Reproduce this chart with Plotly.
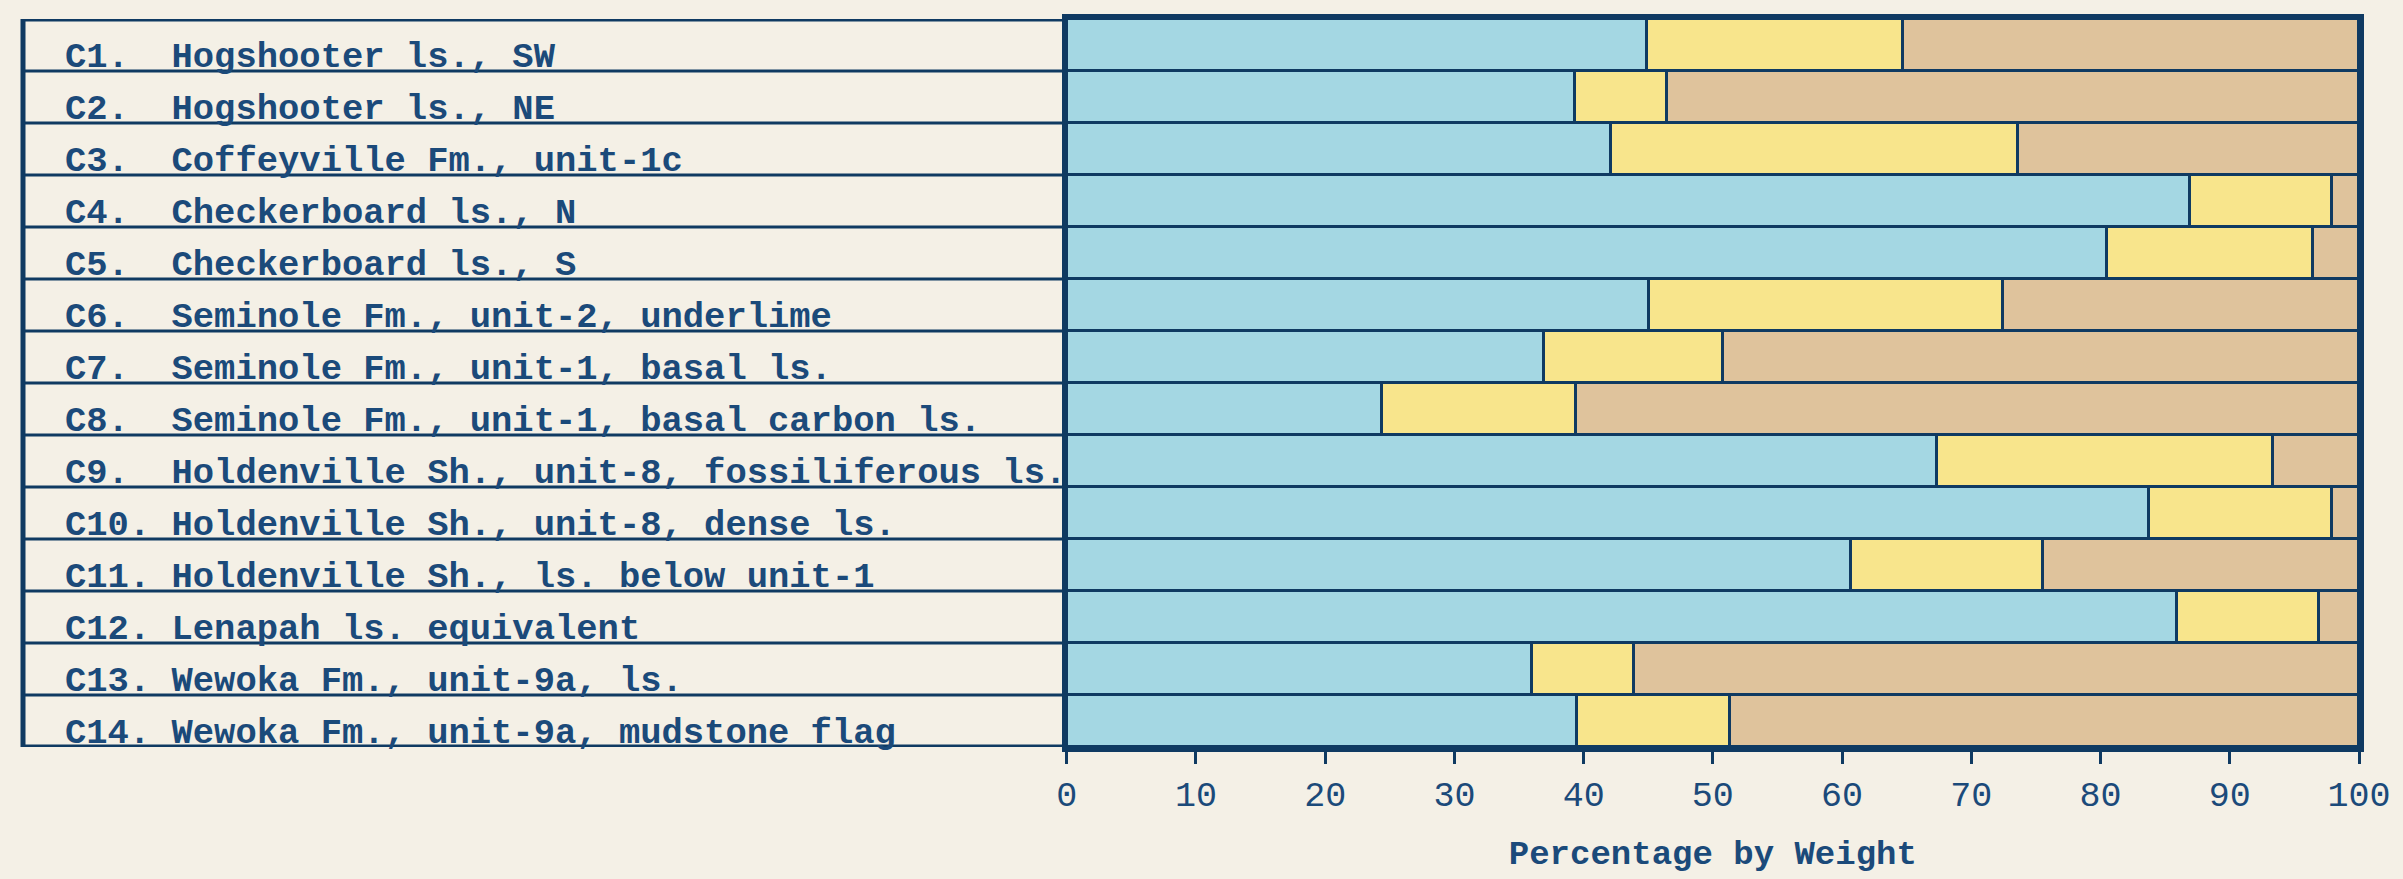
import plotly.graph_objects as go

labels = [
    "C1.  Hogshooter ls., SW",
    "C2.  Hogshooter ls., NE",
    "C3.  Coffeyville Fm., unit-1c",
    "C4.  Checkerboard ls., N",
    "C5.  Checkerboard ls., S",
    "C6.  Seminole Fm., unit-2, underlime",
    "C7.  Seminole Fm., unit-1, basal ls.",
    "C8.  Seminole Fm., unit-1, basal carbon ls.",
    "C9.  Holdenville Sh., unit-8, fossiliferous ls.",
    "C10. Holdenville Sh., unit-8, dense ls.",
    "C11. Holdenville Sh., ls. below unit-1",
    "C12. Lenapah ls. equivalent",
    "C13. Wewoka Fm., unit-9a, ls.",
    "C14. Wewoka Fm., unit-9a, mudstone flag",
]
blue_vals = [44.9, 39.3, 42.1, 86.9, 80.5, 45.0, 36.9, 24.4, 67.3, 83.7, 60.7, 85.9, 36.0, 39.5]
yellow_vals = [19.8, 7.1, 31.5, 11.0, 15.9, 27.4, 13.9, 15.0, 26.0, 14.2, 14.8, 11.0, 7.9, 11.8]
tan_vals = [35.3, 53.6, 26.4, 2.1, 3.6, 27.6, 49.2, 60.6, 6.7, 2.1, 24.5, 3.1, 56.1, 48.7]
x_ticks = [0, 10, 20, 30, 40, 50, 60, 70, 80, 90, 100]

W, H = 2403, 879
ML, MR, MT, MB = 12, 32, 19, 113
plot_w = W - ML - MR
split = (1066 - ML) / plot_w

NAVY = "#0f3a62"
TEXT = "#1b4a7a"
BG = "#f4f0e6"
FONT = "Liberation Mono"

rows = list(range(len(labels)))

fig = go.Figure()
for vals, col in [(blue_vals, "#a4d7e3"), (yellow_vals, "#f8e58c"), (tan_vals, "#dfc39c")]:
    fig.add_trace(go.Bar(
        y=rows, x=vals, orientation="h", width=1,
        marker=dict(color=col, line=dict(color=NAVY, width=3)),
        showlegend=False, hoverinfo="x",
    ))

shapes = []
n = len(labels)
for i in range(n + 1):
    edge = i in (0, n)
    shapes.append(dict(type="line", xref="paper", yref="y", x0=0, x1=split,
                       y0=i - 0.5, y1=i - 0.5,
                       line=dict(color=NAVY, width=5 if edge else 3)))
shapes.append(dict(type="line", xref="paper", yref="y", x0=0, x1=0,
                   y0=-0.5, y1=n - 0.5, line=dict(color=NAVY, width=5)))

annotations = []
for i, lab in enumerate(labels):
    annotations.append(dict(
        xref="paper", yref="y", x=(52 - ML) / plot_w, y=i + 0.24,
        xanchor="left", yanchor="middle", text=lab, showarrow=False,
        font=dict(family=FONT, size=35.5, color=TEXT, weight="bold"),
    ))

fig.update_layout(
    width=W, height=H,
    margin=dict(l=ML, r=MR, t=MT, b=MB),
    paper_bgcolor=BG, plot_bgcolor=BG,
    barmode="stack", bargap=0,
    shapes=shapes, annotations=annotations,
    xaxis=dict(
        domain=[split, 1], range=[0, 100], tickvals=x_ticks,
        ticks="outside", ticklen=12, tickwidth=3, tickcolor=NAVY,
        showgrid=False, zeroline=False,
        showline=True, linewidth=5, linecolor=NAVY, mirror=True,
        tickfont=dict(family=FONT, size=35, color=TEXT),
        title=dict(text="Percentage by Weight", standoff=26,
                   font=dict(family=FONT, size=34, color=TEXT, weight="bold")),
    ),
    yaxis=dict(
        range=[n - 0.5, -0.5], showticklabels=False, ticks="",
        showgrid=False, zeroline=False,
        showline=True, linewidth=5, linecolor=NAVY, mirror=True,
    ),
)

fig.write_html(
    "out.html",
    config={"displayModeBar": False},
    post_script=("document.body.style.margin='0';"
                 "document.body.style.background='" + BG + "';"
                 "document.documentElement.style.overflow='hidden';"),
)
